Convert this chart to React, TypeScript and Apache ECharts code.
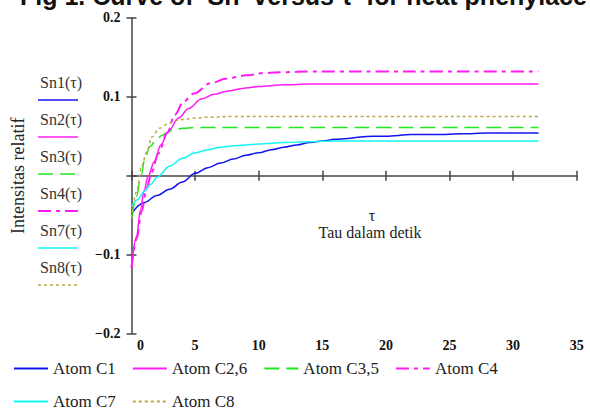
import React, { useEffect, useRef } from "react";
import * as echarts from "echarts";

const legendNames = ["Atom C1", "Atom C2,6", "Atom C3,5", "Atom C4", "Atom C7", "Atom C8"];
const sideLabels = ["Sn1(τ)", "Sn2(τ)", "Sn3(τ)", "Sn4(τ)", "Sn7(τ)", "Sn8(τ)"];
const xTicks = [0, 5, 10, 15, 20, 25, 30, 35];
const yTicks = [-0.2, -0.1, 0, 0.1, 0.2];

const tau1 = [0, 1, 2, 3, 4, 5, 6, 7, 8, 9, 10, 11, 12, 13, 14, 15, 16, 17, 18, 19, 20, 22, 24, 26, 28, 30, 32];
const sn1 = [-0.048, -0.034, -0.025, -0.017, -0.008, 0.003, 0.01, 0.016, 0.021, 0.026, 0.029, 0.033, 0.036, 0.039, 0.042, 0.044, 0.046, 0.047, 0.049, 0.05, 0.05, 0.052, 0.052, 0.053, 0.054, 0.054, 0.054];

const tau2 = [0, 0.4, 0.7, 1, 1.3, 1.8, 2.3, 2.9, 3.7, 4.5, 5.5, 6.5, 7.5, 9, 10, 12, 14, 16, 20, 24, 28, 32];
const sn2 = [-0.115, -0.077, -0.043, -0.018, -0.001, 0.018, 0.039, 0.056, 0.073, 0.085, 0.097, 0.103, 0.107, 0.111, 0.113, 0.115, 0.116, 0.116, 0.116, 0.116, 0.116, 0.116];

const tau3 = [0, 0.4, 0.75, 1.05, 1.45, 2, 2.4, 2.8, 3.2, 3.6, 4, 5, 6, 8, 12, 16, 20, 24, 28, 32];
const sn3 = [-0.054, -0.026, 0, 0.022, 0.037, 0.047, 0.051, 0.054, 0.058, 0.059, 0.06, 0.061, 0.061, 0.061, 0.061, 0.061, 0.061, 0.061, 0.061, 0.061];

const tau4 = [0, 0.4, 0.8, 1.2, 1.6, 2.1, 2.8, 3.4, 4.1, 4.9, 6.2, 7.5, 9, 10.5, 12, 14, 16, 20, 24, 28, 32];
const sn4 = [-0.117, -0.08, -0.045, -0.015, 0.005, 0.028, 0.054, 0.077, 0.094, 0.104, 0.117, 0.123, 0.127, 0.13, 0.131, 0.132, 0.132, 0.132, 0.132, 0.132, 0.132];

const tau7 = [0, 0.5, 1, 1.5, 2, 3, 4, 5, 6, 7, 8, 10, 12, 14, 16, 20, 24, 28, 32];
const sn7 = [-0.039, -0.03, -0.02, -0.011, -0.002, 0.012, 0.022, 0.029, 0.033, 0.036, 0.038, 0.04, 0.042, 0.043, 0.044, 0.044, 0.044, 0.044, 0.044];

const tau8 = [0, 0.4, 0.8, 1.2, 1.6, 2.2, 2.9, 3.5, 4, 5, 6, 8, 12, 16, 20, 24, 28, 32];
const sn8 = [-0.054, -0.02, 0.012, 0.03, 0.049, 0.06, 0.066, 0.07, 0.071, 0.073, 0.074, 0.075, 0.075, 0.075, 0.075, 0.075, 0.075, 0.075];

const seriesTaus = [tau1, tau2, tau3, tau4, tau7, tau8];
const seriesVals = [sn1, sn2, sn3, sn4, sn7, sn8];

const colors = ["#1414f0", "#ff1cf0", "#1ee81e", "#ff1cf0", "#14f5f5", "#b8a846"];
const dashes: any[] = ["solid", "solid", [15, 7], [13, 5, 4, 5], "solid", [3, 3]];
const widths = [1.5, 1.5, 1.5, 2, 1.5, 1.5];

const SERIF = "'Liberation Serif', 'Times New Roman', serif";

const GRID = { left: 131.5, right: 13.3, top: 17.7, bottom: 74.3 };
const GRID_W = 590 - GRID.left - GRID.right;
const GRID_H = 408 - GRID.top - GRID.bottom;

export default function App() {
  const ref = useRef<HTMLDivElement>(null);
  useEffect(() => {
    if (!ref.current) return;
    const chart = echarts.init(ref.current, null, { renderer: "svg" });

    const sideGraphics: any[] = [];
    sideLabels.forEach((lab, i) => {
      const yc = 82 + i * 37;
      sideGraphics.push({
        type: "text",
        x: 40,
        y: yc,
        style: { text: lab, font: `16px ${SERIF}`, fill: "#333", verticalAlign: "middle" },
      });
      sideGraphics.push({
        type: "line",
        shape: { x1: 38, y1: yc + 18, x2: 78, y2: yc + 18 },
        style: { stroke: colors[i], lineWidth: widths[i], lineDash: dashes[i] === "solid" ? null : dashes[i] },
      });
    });

    const tickStyle = { color: "#444", width: 1.5 };

    const option: any = {
      animation: false,
      grid: { ...GRID, containLabel: false },
      xAxis: [
        {
          type: "value",
          min: xTicks[0],
          max: xTicks[xTicks.length - 1],
          interval: 5,
          position: "bottom",
          axisLine: { onZero: true, lineStyle: tickStyle },
          axisTick: { show: true, inside: false, length: 5, lineStyle: tickStyle },
          splitLine: { show: false },
          axisLabel: {
            margin: 5,
            color: "#111",
            fontFamily: SERIF,
            fontWeight: "bold",
            fontSize: 14,
            formatter: (v: number) => (v === 0 ? "{z|0}" : String(v)),
            rich: { z: { padding: [0, 0, 0, 18], fontFamily: SERIF, fontWeight: "bold", fontSize: 14, color: "#111" } },
          },
        },
        {
          type: "value",
          min: xTicks[0],
          max: xTicks[xTicks.length - 1],
          interval: 5,
          position: "top",
          offset: -GRID_H / 2,
          axisLine: { show: false, onZero: false },
          axisTick: { show: true, inside: false, length: 5, lineStyle: tickStyle },
          splitLine: { show: false },
          axisLabel: { show: false },
        },
      ],
      yAxis: [
        {
          type: "value",
          min: yTicks[0],
          max: yTicks[yTicks.length - 1],
          interval: 0.1,
          position: "left",
          name: "Intensitas relatif",
          nameLocation: "middle",
          nameRotate: 90,
          nameGap: 105,
          nameTextStyle: { fontFamily: SERIF, fontSize: 18, color: "#222" },
          axisLine: { onZero: true, lineStyle: tickStyle },
          axisTick: { show: true, inside: false, length: 5, lineStyle: tickStyle },
          splitLine: { show: false },
          axisLabel: {
            margin: 11,
            color: "#111",
            fontFamily: SERIF,
            fontWeight: "bold",
            fontSize: 14,
            formatter: (v: number) => {
              if (Math.abs(v) < 1e-9) return "";
              const s = Math.abs(v).toFixed(1);
              return v < 0 ? "\u2212" + s : s;
            },
          },
        },
        {
          type: "value",
          min: yTicks[0],
          max: yTicks[yTicks.length - 1],
          interval: 0.1,
          position: "right",
          offset: -GRID_W,
          axisLine: { show: false, onZero: false },
          axisTick: { show: true, inside: false, length: 5, lineStyle: tickStyle },
          splitLine: { show: false },
          axisLabel: { show: false },
        },
      ],
      legend: {
        left: 8,
        top: 355,
        width: 575,
        itemWidth: 34,
        itemHeight: 14,
        itemGap: 16,
        itemStyle: { opacity: 0 },
        textStyle: { fontFamily: SERIF, fontSize: 17, color: "#222" },
        data: legendNames,
      },
      graphic: [
        {
          type: "text",
          x: 20,
          y: 8,
          style: {
            text: "Fig 1. Curve of  Sn  versus τ  for heat phenylace",
            font: "bold 25px 'Liberation Sans', Arial, sans-serif",
            fill: "#111",
            verticalAlign: "bottom",
          },
        },
        {
          type: "text",
          x: 372,
          y: 215,
          style: { text: "τ", font: `16px ${SERIF}`, fill: "#222", align: "center", verticalAlign: "middle" },
        },
        {
          type: "text",
          x: 370,
          y: 232,
          style: { text: "Tau dalam detik", font: `16px ${SERIF}`, fill: "#222", align: "center", verticalAlign: "middle" },
        },
        ...sideGraphics,
      ],
      series: legendNames.map((name, i) => ({
        name,
        type: "line",
        xAxisIndex: 0,
        yAxisIndex: 0,
        showSymbol: false,
        symbol: "none",
        smooth: 0.35,
        smoothMonotone: "x",
        lineStyle: { color: colors[i], width: widths[i], type: dashes[i] },
        itemStyle: { color: colors[i] },
        data: seriesTaus[i].map((t, j) => [t, seriesVals[i][j]]),
      })),
    };
    chart.setOption(option);
    return () => chart.dispose();
  }, []);
  return <div ref={ref} style={{ width: 590, height: 408, position: "absolute", left: 0, top: 0 }} />;
}
